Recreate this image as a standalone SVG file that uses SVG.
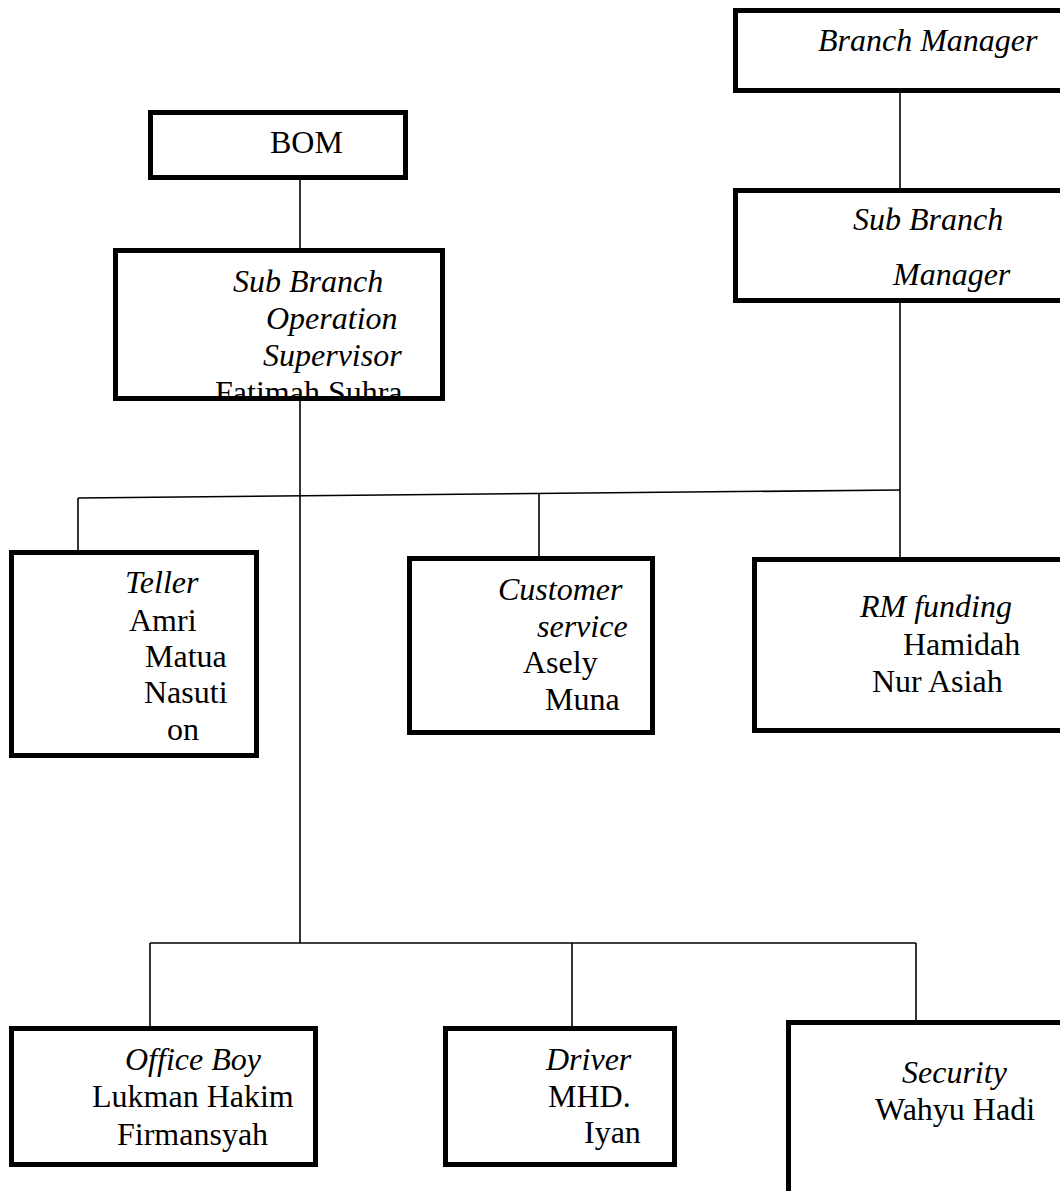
<svg xmlns="http://www.w3.org/2000/svg" width="1060" height="1191" viewBox="0 0 1060 1191">
<style>
.box{fill:#fff;stroke:#000;stroke-width:5}
.ln{fill:none;stroke:#000;stroke-width:1.6}
text{font-family:"Liberation Serif","Times New Roman",serif;font-size:32px;fill:#000}
.i{font-style:italic}
</style>
<rect width="1060" height="1191" fill="#fff"/>
<g id="connectors">
<line class="ln" x1="900" y1="93" x2="900" y2="188"/>
<line class="ln" x1="300" y1="180" x2="300" y2="250"/>
<line class="ln" x1="900" y1="303" x2="900" y2="557"/>
<line class="ln" x1="78" y1="498" x2="900" y2="490"/>
<line class="ln" x1="78" y1="498" x2="78" y2="552"/>
<line class="ln" x1="539" y1="494" x2="539" y2="558"/>
<line class="ln" x1="300" y1="400" x2="300" y2="943"/>
<line class="ln" x1="150" y1="943" x2="916" y2="943"/>
<line class="ln" x1="150" y1="943" x2="150" y2="1028"/>
<line class="ln" x1="572" y1="943" x2="572" y2="1028"/>
<line class="ln" x1="916" y1="943" x2="916" y2="1022"/>
</g>
<g id="branch-manager">
<rect class="box" x="735.5" y="10.5" width="340" height="80"/>
<text class="i" x="818" y="51">Branch Manager</text>
</g>
<g id="sub-branch-manager">
<rect class="box" x="735.5" y="190.5" width="340" height="110"/>
<text class="i" x="853" y="230">Sub Branch</text>
<text class="i" x="893" y="285">Manager</text>
</g>
<g id="bom">
<rect class="box" x="150.5" y="112.5" width="255" height="65"/>
<text x="270" y="153">BOM</text>
</g>
<g id="sbos">
<rect class="box" x="115.5" y="250.5" width="327" height="148"/>
<svg x="118" y="253" width="322" height="143" overflow="hidden">
<text class="i" x="115" y="39">Sub Branch</text>
<text class="i" x="148" y="76">Operation</text>
<text class="i" x="145" y="113">Supervisor</text>
<text x="97" y="150">Fatimah Suhra</text>
</svg>
</g>
<g id="teller">
<rect class="box" x="11.5" y="552.5" width="245" height="203"/>
<text class="i" x="125" y="593">Teller</text>
<text x="129" y="631">Amri</text>
<text x="145" y="667">Matua</text>
<text x="144" y="703">Nasuti</text>
<text x="167" y="740">on</text>
</g>
<g id="customer-service">
<rect class="box" x="409.5" y="558.5" width="243" height="174"/>
<text class="i" x="498" y="600">Customer</text>
<text class="i" x="537" y="637">service</text>
<text x="523" y="673">Asely</text>
<text x="545" y="710">Muna</text>
</g>
<g id="rm-funding">
<rect class="box" x="754.5" y="559.5" width="340" height="171"/>
<text class="i" x="860" y="617">RM funding</text>
<text x="903" y="655">Hamidah</text>
<text x="872" y="692">Nur Asiah</text>
</g>
<g id="office-boy">
<rect class="box" x="11.5" y="1028.5" width="304" height="136"/>
<text class="i" x="125" y="1070">Office Boy</text>
<text x="92" y="1107">Lukman Hakim</text>
<text x="117" y="1145">Firmansyah</text>
</g>
<g id="driver">
<rect class="box" x="445.5" y="1028.5" width="229" height="136"/>
<text class="i" x="546" y="1070">Driver</text>
<text x="548" y="1107">MHD.</text>
<text x="584" y="1143">Iyan</text>
</g>
<g id="security">
<rect class="box" x="788.5" y="1022.5" width="300" height="200"/>
<text class="i" x="902" y="1083">Security</text>
<text x="875" y="1120">Wahyu Hadi</text>
</g>
</svg>
